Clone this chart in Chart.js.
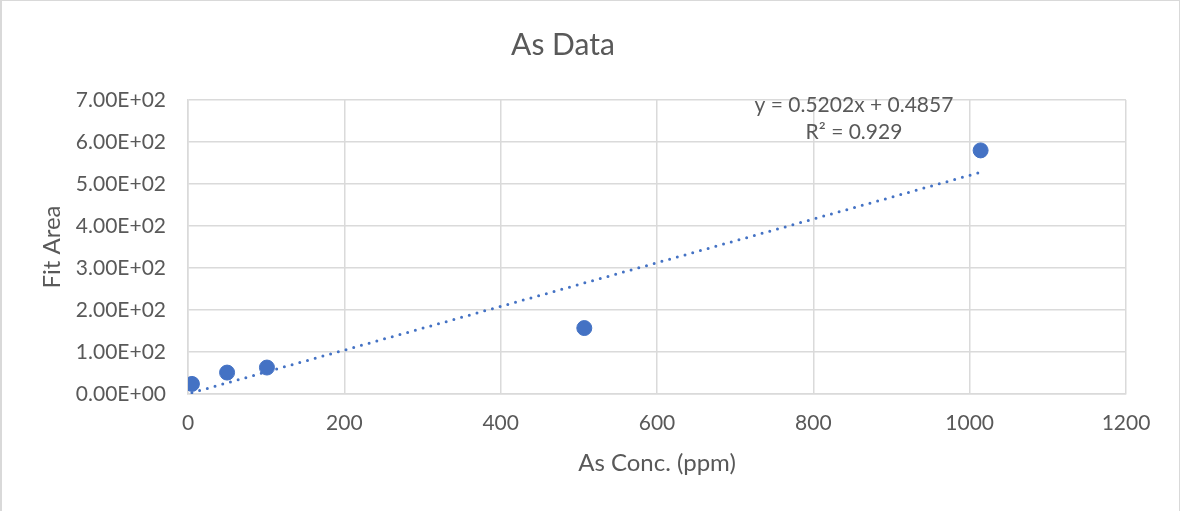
<!DOCTYPE html>
<html>
<head>
<meta charset="utf-8">
<script src="https://cdn.jsdelivr.net/npm/chart.js@4/dist/chart.umd.min.js"></script>
<style>
  html, body { margin: 0; padding: 0; background: #fff; }
  #wrap { position: relative; width: 1180px; height: 511px; }
  #frame {
    position: absolute; left: 0; top: 0; width: 1180px; height: 511px;
    box-sizing: border-box; border: 1px solid #d9d9d9; border-left-width: 2px;
    border-bottom: none; pointer-events: none;
  }
</style>
</head>
<body>
<div id="wrap">
  <canvas id="chart" width="1180" height="511"></canvas>
  <div id="frame"></div>
</div>
<script>
// Data
const concPpm = [5, 50, 101, 507, 1014];
const fitArea = [24, 51, 63, 157, 580];
const xTicks = [0, 200, 400, 600, 800, 1000, 1200];
const yTicks = [0, 100, 200, 300, 400, 500, 600, 700];

// Excel linear trendline (as printed on the chart)
const slope = 0.5202;
const intercept = 0.4857;
const rSquared = 0.929;
const trendX = [Math.min(...concPpm), Math.max(...concPpm)];

const textColor = "#595959";
const gridColor = "#dadada";
const blue = "#4472C4";

// Equation label, placed with the chart's own scales
const equationLabel = {
  id: "equationLabel",
  afterDatasetsDraw(chart) {
    const { ctx, scales } = chart;
    const x = scales.x.getPixelForValue(852);
    ctx.save();
    ctx.font = "21px Lato";
    ctx.fillStyle = textColor;
    ctx.textAlign = "center";
    ctx.textBaseline = "middle";
    ctx.fillText("y = " + slope.toFixed(4) + "x + " + intercept.toFixed(4), x, scales.y.getPixelForValue(688));
    ctx.fillText("R\u00B2 = " + rSquared, x, scales.y.getPixelForValue(624));
    ctx.restore();
  }
};

new Chart(document.getElementById("chart").getContext("2d"), {
  type: "scatter",
  data: {
    datasets: [
      {
        label: "As",
        data: concPpm.map((x, i) => ({ x, y: fitArea[i] })),
        backgroundColor: blue,
        borderColor: blue,
        pointRadius: 7.5,
        pointHoverRadius: 7.5,
        order: 1
      },
      {
        label: "Linear (As)",
        type: "line",
        data: trendX.map(x => ({ x, y: slope * x + intercept })),
        borderColor: blue,
        borderWidth: 3,
        borderDash: [0, 8],
        borderCapStyle: "round",
        pointRadius: 0,
        fill: false,
        order: 2
      }
    ]
  },
  options: {
    responsive: false,
    animation: false,
    layout: { padding: { left: 0, right: 54, top: 0, bottom: 0 } },
    plugins: {
      legend: { display: false },
      tooltip: { enabled: false },
      title: {
        display: true,
        text: "As Data",
        color: textColor,
        font: { family: "Lato", size: 30, weight: "normal" },
        padding: { top: 27, bottom: 37 }
      }
    },
    scales: {
      x: {
        type: "linear",
        min: 0,
        max: 1200,
        afterBuildTicks: s => { s.ticks = xTicks.map(v => ({ value: v })); },
        afterFit: s => { s.height = 117; s.paddingLeft = 0; s.paddingRight = 0; },
        grid: { color: gridColor, lineWidth: 1.5, drawTicks: false },
        border: { color: gridColor, width: 1.5 },
        ticks: {
          color: textColor,
          font: { family: "Lato", size: 21 },
          padding: 17,
          callback: v => String(v)
        },
        title: {
          display: true,
          text: "As Conc. (ppm)",
          color: textColor,
          font: { family: "Lato", size: 24 },
          padding: { top: 0, bottom: 33 }
        }
      },
      y: {
        type: "linear",
        min: 0,
        max: 700,
        afterBuildTicks: s => { s.ticks = yTicks.map(v => ({ value: v })); },
        afterFit: s => { s.width = 188; s.paddingTop = 0; s.paddingBottom = 0; },
        grid: { color: gridColor, lineWidth: 1.5, drawTicks: false },
        border: { color: gridColor, width: 1.5 },
        ticks: {
          color: textColor,
          font: { family: "Lato", size: 21 },
          padding: 22,
          callback: v => {
            const [m, e] = Number(v).toExponential(2).split("e");
            const exp = Math.abs(parseInt(e, 10));
            return m + "E" + (parseInt(e, 10) < 0 ? "-" : "+") + String(exp).padStart(2, "0");
          }
        },
        title: {
          display: true,
          text: "Fit Area",
          color: textColor,
          font: { family: "Lato", size: 24 },
          padding: { top: 38, bottom: 0 }
        }
      }
    }
  },
  plugins: [equationLabel]
});
</script>
</body>
</html>
